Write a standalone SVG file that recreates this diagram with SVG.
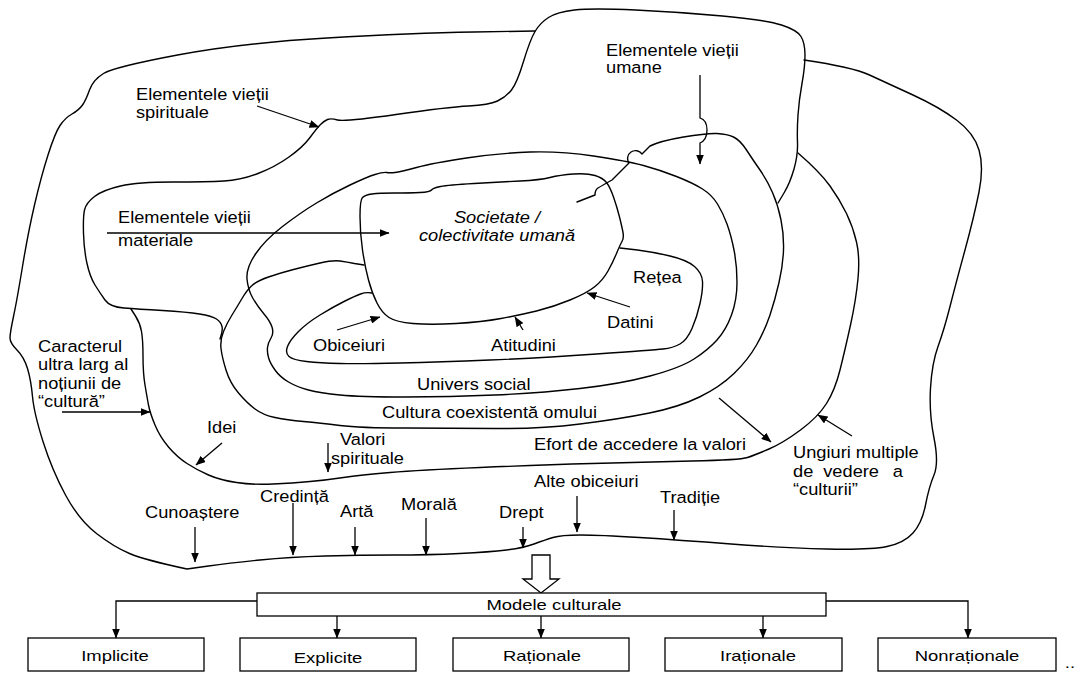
<svg xmlns="http://www.w3.org/2000/svg" width="1084" height="677" viewBox="0 0 1084 677">
<defs>
<marker id="ah" markerUnits="userSpaceOnUse" markerWidth="10" markerHeight="8" refX="9.5" refY="4" orient="auto"><path d="M0,0 L10,4 L0,8 z" fill="#000"/></marker>
</defs>
<style>
.c{fill:none;stroke:#000;stroke-width:1.4;stroke-linejoin:round;stroke-linecap:round}
.a{fill:none;stroke:#000;stroke-width:1.3;marker-end:url(#ah)}
.t{font-family:"Liberation Sans",Arial,sans-serif;font-size:16.3px;fill:#000}
.i{font-style:italic;text-anchor:middle}
.b{font-family:"Liberation Sans",Arial,sans-serif;font-size:15px;fill:#000;text-anchor:middle}
.box{fill:#fff;stroke:#000;stroke-width:1.3}
</style>
<rect width="1084" height="677" fill="#fff"/>

<g id="outer-culture">
<path class="c" d="M535,31 L474,32 Q413,33 327,38 Q241,43 177.5,55 Q114,67 103.5,73.5 Q93,80 89.5,90 Q86,100 82.5,105 Q79,110 72,114 Q65,118 60,125.5 Q55,133 48,155 Q41,177 34.5,205 Q28,233 22.5,266.5 Q17,300 13.5,316.5 Q10,333 10,338 Q10,343 17,350 Q24,357 27.5,368.5 Q31,380 32.5,396.5 Q34,413 43,441.5 Q52,470 65.5,495 Q79,520 96.5,533.5 Q114,547 129.5,553.5 Q145,560 187,569 L208.5,566 Q230,563 260,560 Q290,557 325,556 Q360,555 394.5,555 Q429,555 459.5,553.5 Q490,552 506.5,550 Q523,548 534,544 Q545,540 553,537.5 Q561,535 580.5,535 Q600,535 639.5,537.5 Q679,540 731,544 Q783,548 826.5,549 Q870,550 887,546.5 Q904,543 913,533 Q922,523 925.5,505 Q929,487 934,475 Q939,463 934,438 Q929,413 930.5,388 Q932,363 938,346.5 Q944,330 950,306.5 Q956,283 965,250 Q974,217 979,192 Q984,167 979,150 Q974,133 956.5,120 Q939,107 913,95 Q887,83 869.5,75 Q852,67 804,60"/>
</g>

<g id="spiritual-material">
<path class="c" d="M778,203 L784,193 Q790,183 794,169 Q798,155 797.5,142.5 Q797,130 798,115 Q799,100 802,83.5 Q805,67 805,55 Q805,43 801,36.5 Q797,30 781.5,25 Q766,20 722.5,16 Q679,12 635.5,10 Q592,8 574.5,10 Q557,12 548.5,17.5 Q540,23 535,31.5 Q530,40 523.5,61.5 Q517,83 511.5,90 Q506,97 497.5,101 Q489,105 468.5,106 Q448,107 396,114.5 Q344,122 337.5,120 Q331,118 327.5,119.5 Q324,121 320.5,124.5 Q317,128 310,137.5 Q303,147 289,157 Q275,167 258,173.5 Q241,180 224,181 Q207,182 172.5,182 Q138,182 120.5,186 Q103,190 94.5,196.5 Q86,203 84.5,210 Q83,217 83.5,233.5 Q84,250 87,263.5 Q90,277 95,285 Q100,293 105,300 Q110,307 124,308 Q138,309 162.5,310.5 Q187,312 199.5,314 Q212,316 216.5,319 Q221,322 222,326.5 Q223,331 220,339"/>
</g>

<g id="efort">
<path class="c" d="M131,309 L135.5,316 Q140,323 141.5,331.5 Q143,340 143,356.5 Q143,373 145,385 Q147,397 148.5,405 Q150,413 155,425 Q160,437 168.5,447 Q177,457 187,463.5 Q197,470 208.5,475 Q220,480 236.5,482.5 Q253,485 273,484 Q293,483 310,481.5 Q327,480 343.5,477.5 Q360,475 390,472.5 Q420,470 480,467.5 Q540,465 592,463.5 Q644,462 692,461 Q740,460 747.5,457.5 Q755,455 769,449 Q783,443 800.5,430 Q818,417 826.5,403.5 Q835,390 840,370 Q845,350 850.5,325 Q856,300 858,278.5 Q860,257 856.5,242 Q853,227 846.5,213.5 Q840,200 830,186 Q820,172 798,153"/>
</g>

<g id="cultura-coexistenta">
<path class="c" d="M364,265 L354.5,263.5 Q347,262 340,261 Q333,260 320,263 Q307,266 293.5,269.5 Q280,273 268.5,277 Q257,281 252,285.5 Q247,290 242,298.5 Q237,307 232,315 Q227,323 223.5,331.5 Q220,340 221,348.5 Q222,357 226,370 Q230,383 238.5,393 Q247,403 255,409 Q263,415 275,417.5 Q287,420 303.5,421.5 Q320,423 340,425.5 Q360,428 405,428 Q450,428 495,428.5 Q540,429 580,424 Q620,419 649.5,413 Q679,407 699.5,397 Q720,387 734,373.5 Q748,360 756.5,345 Q765,330 770,315 Q775,300 779,282.5 Q783,265 783.5,250 Q784,235 781,220 Q778,205 772.5,192.5 Q767,180 760,170 Q753,160 746.5,150 Q740,140 733.5,137 Q727,134 717,133.5 Q707,133 683.5,137 Q660,141 650,146 L642,154 A6,6 0 0 0 629,163 L612,180 Q603,185 598,188 Q595,190 595,195 L577,202"/>
</g>

<g id="univers-social">
<path class="c" d="M530,152 Q560,151 593.5,156 Q627,161 643.5,165.5 Q660,170 676.5,176.5 Q693,183 702.5,189 Q712,195 717.5,204 Q723,213 727,224 Q731,235 734,250 Q737,265 737,282.5 Q737,300 731.5,315 Q726,330 717,340 Q708,350 694,359 Q680,368 650,376 Q620,384 580,388.5 Q540,393 495,395 Q450,397 405,397 Q360,397 340,395 Q320,393 308.5,390 Q297,387 288.5,382 Q280,377 275,370 Q270,363 268.5,357.5 Q267,352 267.5,347.5 Q268,343 271,338 Q274,333 272,327 Q270,321 264,314 Q258,307 253,298.5 Q248,290 247,279 Q246,268 255.5,254 Q265,240 282.5,226.5 Q300,213 316.5,203 Q333,193 350,185 Q367,177 375,174.5 Q383,172 386.5,172.5 Q390,173 395,172.5 Q400,172 416.5,167.5 Q433,163 466.5,158 Q500,153 530,152 Z"/>
</g>

<g id="retea">
<path class="c" d="M620,248 L637.5,250 Q653,252 670,256 Q687,260 694.5,266.5 Q702,273 702.5,281.5 Q703,290 700,303.5 Q697,317 692,328.5 Q687,340 680,344 Q673,348 663,349 Q653,350 596.5,354 Q540,358 490,360 Q440,362 400,363 Q360,364 340,363.5 Q320,363 306.5,361.5 Q293,360 289,356.5 Q285,353 287.5,346.5 Q290,340 298.5,331.5 Q307,323 320,315 Q333,307 344,301.5 Q355,296 360.5,294 Q366,292 372,293"/>
</g>

<g id="societate">
<path class="c" d="M360,216.5 Q360,200 362.5,197.5 Q365,195 372,194 Q379,193 394.5,193 Q410,193 420,192.5 Q430,192 431.5,190 Q433,188 440.5,186.5 Q448,185 474,183.5 Q500,182 520,181 Q540,180 550,177.5 Q560,175 573.5,174 Q587,173 595,175.5 Q603,178 606.5,182.5 Q610,187 613.5,197 Q617,207 619.5,217 Q622,227 623,232.5 Q624,238 622,241.5 Q620,245 616.5,253.5 Q613,262 608,271 Q603,280 595,286.5 Q587,293 570,300 Q553,307 536.5,311 Q520,315 501,318.5 Q482,322 456,323.5 Q430,325 413,323.5 Q396,322 389,317.5 Q382,313 377,303 Q372,293 368.5,280 Q365,267 362.5,250 Q360,233 360,216.5 Z"/>
<text class="t i" transform="translate(497,223) scale(1.12,1)">Societate /</text>
<text class="t i" transform="translate(497,241) scale(1.12,1)">colectivitate umană</text>
</g>

<g id="labels">
<text class="t" transform="translate(136,100) scale(1.12,1)">Elementele vieții</text>
<text class="t" transform="translate(136,118) scale(1.12,1)">spirituale</text>
<text class="t" transform="translate(118,223) scale(1.12,1)">Elementele vieții</text>
<text class="t" transform="translate(118,246) scale(1.12,1)">materiale</text>
<text class="t" transform="translate(606,56) scale(1.12,1)">Elementele vieții</text>
<text class="t" transform="translate(606,73) scale(1.12,1)">umane</text>
<text class="t" transform="translate(633,283) scale(1.12,1)">Rețea</text>
<text class="t" transform="translate(607,328) scale(1.12,1)">Datini</text>
<text class="t" transform="translate(313,351) scale(1.12,1)">Obiceiuri</text>
<text class="t" transform="translate(491,351) scale(1.12,1)">Atitudini</text>
<text class="t" transform="translate(417,390) scale(1.12,1)">Univers social</text>
<text class="t" transform="translate(382,418) scale(1.12,1)">Cultura coexistentă omului</text>
<text class="t" transform="translate(534,450) scale(1.12,1)">Efort de accedere la valori</text>
<text class="t" transform="translate(793,458) scale(1.12,1)">Ungiuri multiple</text>
<text class="t" transform="translate(793,477) scale(1.12,1)"><tspan x="0">de</tspan><tspan x="27">vedere</tspan><tspan x="89">a</tspan></text>
<text class="t" transform="translate(793,495) scale(1.12,1)">“culturii”</text>
<text class="t" transform="translate(38,352) scale(1.12,1)">Caracterul</text>
<text class="t" transform="translate(38,370) scale(1.12,1)">ultra larg al</text>
<text class="t" transform="translate(38,389) scale(1.12,1)">noțiunii de</text>
<text class="t" transform="translate(38,407) scale(1.12,1)">“cultură”</text>
<text class="t" transform="translate(207,433) scale(1.12,1)">Idei</text>
<text class="t" transform="translate(340,445) scale(1.12,1)">Valori</text>
<text class="t" transform="translate(331,464) scale(1.12,1)">spirituale</text>
<text class="t" transform="translate(260,502) scale(1.12,1)">Credință</text>
<text class="t" transform="translate(145,518) scale(1.12,1)">Cunoaștere</text>
<text class="t" transform="translate(340,517) scale(1.12,1)">Artă</text>
<text class="t" transform="translate(401,510) scale(1.12,1)">Morală</text>
<text class="t" transform="translate(499,518) scale(1.12,1)">Drept</text>
<text class="t" transform="translate(534,487) scale(1.12,1)">Alte obiceiuri</text>
<text class="t" transform="translate(660,503) scale(1.12,1)">Tradiție</text>
</g>

<g id="connectors">
<path class="a" d="M257,106 L319,127"/>
<path class="a" d="M107,233 L389,233"/>
<path class="a" d="M700,75 L700,118 Q707,120 707,130 Q707,140 700,143 L700,164"/>
<path class="a" d="M337,330 L380,317"/>
<path class="a" d="M523,330 L515,317"/>
<path class="a" d="M630,307 L587,293"/>
<path class="a" d="M62,412 L150,412"/>
<path class="a" d="M222,443 L196,465"/>
<path class="a" d="M328,443 L328,472"/>
<path class="a" d="M195,527 L195,562"/>
<path class="a" d="M293,503 L293,555"/>
<path class="a" d="M355,527 L355,555"/>
<path class="a" d="M426,518 L426,555"/>
<path class="a" d="M523,527 L523,548"/>
<path class="a" d="M577,496 L577,532"/>
<path class="a" d="M674,510 L674,540"/>
<path class="a" d="M719,398 L771,442"/>
<path class="a" d="M852,436 L818,415"/>
<polygon points="532,555 550,555 550,579 559,579 541,593 523,579 532,579" fill="#fff" stroke="#000" stroke-width="1.3"/>
<path class="a" d="M257,601 L116,601 L116,638"/>
<path class="a" d="M826,601 L968,601 L968,638"/>
<path class="a" d="M337,616 L337,638"/>
<path class="a" d="M541,616 L541,638"/>
<path class="a" d="M763,616 L763,638"/>
</g>

<g id="modele-culturale">
<rect class="box" x="257" y="593" width="569" height="23"/>
<text class="b" transform="translate(554,610) scale(1.23,1)">Modele culturale</text>
</g>
<g id="implicite">
<rect class="box" x="28" y="638" width="176" height="33"/>
<text class="b" transform="translate(115,661) scale(1.23,1)">Implicite</text>
</g>
<g id="explicite">
<rect class="box" x="240" y="638" width="176" height="33"/>
<text class="b" transform="translate(328,663) scale(1.23,1)">Explicite</text>
</g>
<g id="rationale">
<rect class="box" x="453" y="638" width="176" height="33"/>
<text class="b" transform="translate(542,661) scale(1.23,1)">Raționale</text>
</g>
<g id="irationale">
<rect class="box" x="665" y="638" width="177" height="33"/>
<text class="b" transform="translate(758,661) scale(1.23,1)">Iraționale</text>
</g>
<g id="nonrationale">
<rect class="box" x="878" y="638" width="178" height="33"/>
<text class="b" transform="translate(967,661) scale(1.23,1)">Nonraționale</text>
</g>
<text class="b" transform="translate(1070,668) scale(1.23,1)">..</text>
</svg>
